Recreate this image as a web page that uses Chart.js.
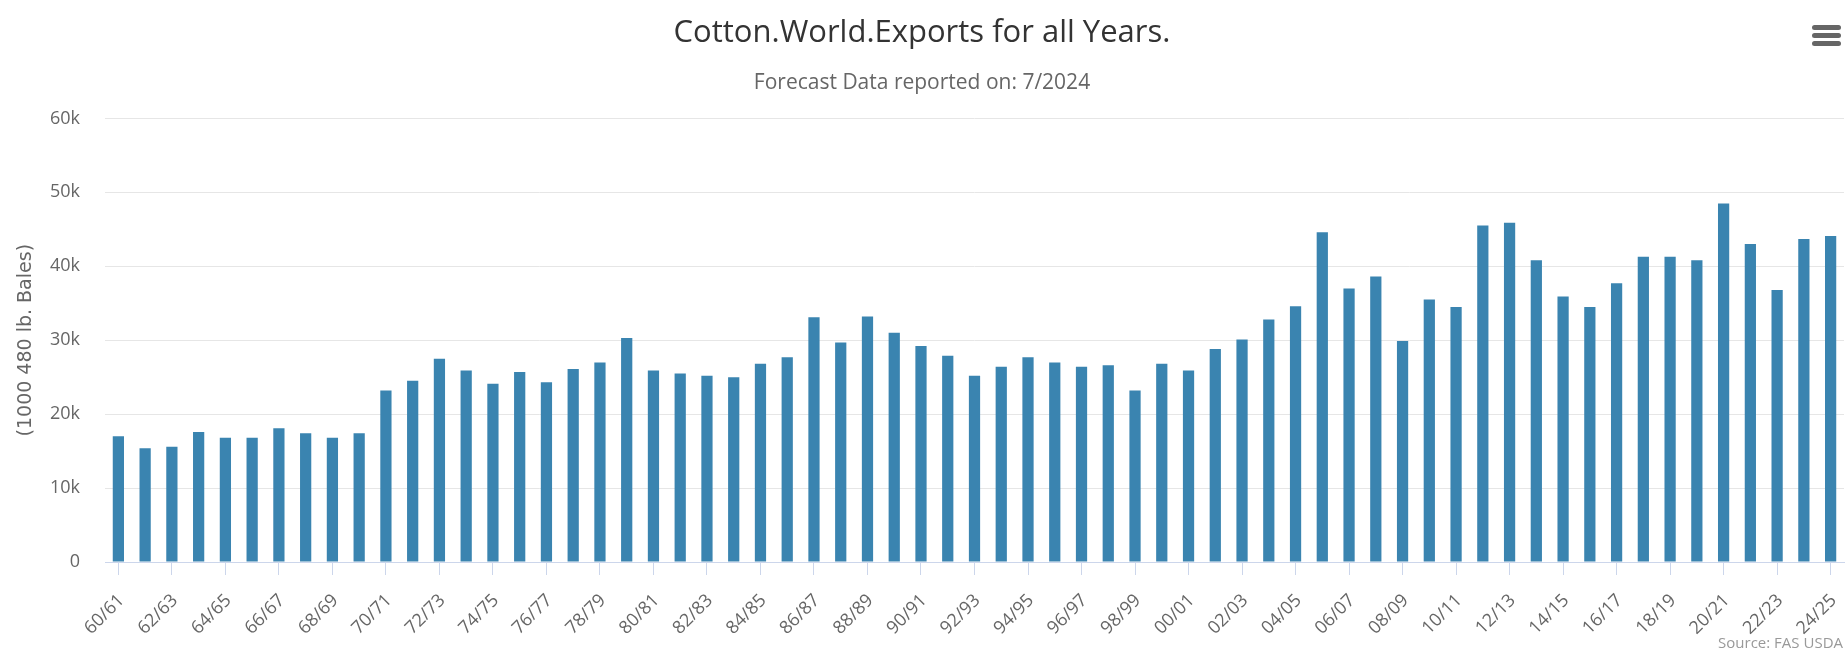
<!DOCTYPE html>
<html>
<head>
<meta charset="utf-8">
<script src="https://cdn.jsdelivr.net/npm/chart.js@4.4.1/dist/chart.umd.min.js"></script>
<style>
  body { margin: 0; background: #fff; }
  #wrap { position: relative; width: 1845px; height: 652px; }
  #menu { position: absolute; left: 1812px; top: 25px; width: 29px; }
  #menu div { height: 4.5px; background: #666; border-radius: 3px; margin-bottom: 3.5px; }
  #source { position: absolute; right: 2px; top: 632px; font: 15px "Open Sans"; color: #999; }
</style>
</head>
<body>
<div id="wrap">
  <canvas id="chart" width="1845" height="652"></canvas>
  <div id="menu"><div></div><div></div><div></div></div>
  <div id="source">Source: FAS USDA</div>
</div>
<script>
// marketing years shown on the x axis
const years = [
  '60/61','61/62','62/63','63/64','64/65','65/66','66/67','67/68','68/69','69/70',
  '70/71','71/72','72/73','73/74','74/75','75/76','76/77','77/78','78/79','79/80',
  '80/81','81/82','82/83','83/84','84/85','85/86','86/87','87/88','88/89','89/90',
  '90/91','91/92','92/93','93/94','94/95','95/96','96/97','97/98','98/99','99/00',
  '00/01','01/02','02/03','03/04','04/05','05/06','06/07','07/08','08/09','09/10',
  '10/11','11/12','12/13','13/14','14/15','15/16','16/17','17/18','18/19','19/20',
  '20/21','21/22','22/23','23/24','24/25'
];

// world exports, 1000 480 lb. bales
const worldExports = [
  17000, 15400, 15600, 17600, 16800, 16800, 18100, 17400, 16800, 17400,
  23200, 24500, 27500, 25900, 24100, 25700, 24300, 26100, 27000, 30300,
  25900, 25500, 25200, 25000, 26800, 27700, 33100, 29700, 33200, 31000,
  29200, 27900, 25200, 26400, 27700, 27000, 26400, 26600, 23200, 26800,
  25900, 28800, 30100, 32800, 34600, 44600, 37000, 38600, 29900, 35500,
  34500, 45500, 45900, 40800, 35900, 34500, 37700, 41300, 41300, 40800,
  48500, 43000, 36800, 43700, 44100
];

const yTickLabels = ['0', '10k', '20k', '30k', '40k', '50k', '60k'];

const ctx = document.getElementById('chart').getContext('2d');
new Chart(ctx, {
  type: 'bar',
  data: {
    labels: years,
    datasets: [{
      label: 'Exports',
      data: worldExports,
      backgroundColor: '#3a84b0',
      categoryPercentage: 1,
      barPercentage: 0.42
    }]
  },
  options: {
    responsive: false,
    animation: false,
    devicePixelRatio: 1,
    layout: { padding: { left: 0, right: 1, top: 0, bottom: 0 } },
    plugins: {
      legend: { display: false },
      tooltip: { enabled: false },
      title: {
        display: true,
        text: 'Cotton.World.Exports for all Years.',
        color: '#333333',
        font: { family: 'Open Sans', size: 31, weight: 'normal' },
        padding: { top: 15, bottom: 18 }
      },
      subtitle: {
        display: true,
        text: 'Forecast Data reported on: 7/2024',
        color: '#666666',
        font: { family: 'Open Sans', size: 21 },
        padding: { top: 0, bottom: 23 }
      }
    },
    scales: {
      x: {
        afterFit: (s) => { s.height = 90; s.paddingLeft = 0; s.paddingRight = 0; },
        grid: {
          display: true,
          drawOnChartArea: false,
          drawTicks: true,
          tickLength: 13,
          color: '#ccd6eb',
          offset: false
        },
        border: { display: true, color: '#ccd6eb', width: 1 },
        ticks: {
          autoSkip: false,
          minRotation: 45,
          maxRotation: 45,
          padding: 15,
          labelOffset: 3,
          color: '#666666',
          font: { family: 'Open Sans', size: 18 },
          callback: function (v, i) { return i % 2 === 0 ? years[i] : null; }
        }
      },
      y: {
        min: 0,
        max: 60000,
        afterFit: (s) => { s.width = 105; },
        grid: { color: '#e6e6e6', lineWidth: 1, drawTicks: false },
        border: { display: false },
        ticks: {
          stepSize: 10000,
          padding: 25,
          color: '#666666',
          font: { family: 'Open Sans', size: 18 },
          callback: (v) => yTickLabels[v / 10000]
        },
        title: {
          display: true,
          text: '(1000 480 lb. Bales)',
          color: '#666666',
          font: { family: 'DejaVu Sans', size: 19 },
          padding: { top: 15, bottom: 0 }
        }
      }
    }
  }
});
</script>
</body>
</html>
